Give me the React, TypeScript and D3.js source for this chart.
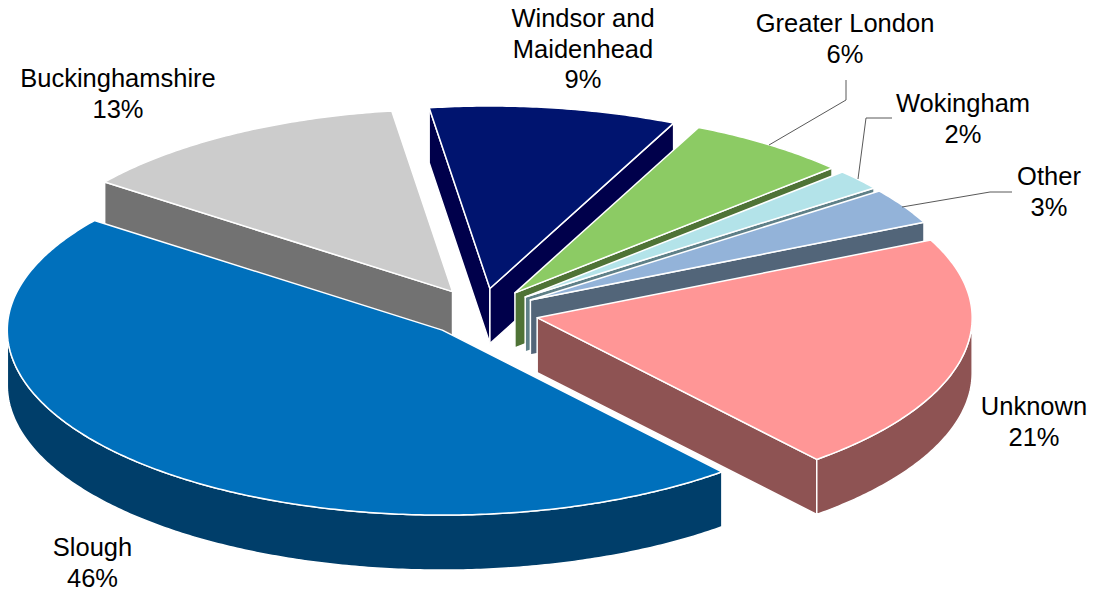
import React from "react";
import * as d3 from "d3";

const categories = ["Unknown", "Slough", "Buckinghamshire", "Windsor and Maidenhead", "Greater London", "Wokingham", "Other"];
const shares = [20.89, 46.36, 12.52, 9.17, 6.06, 1.81, 3.19];
const topColors = ["#FF9696", "#0070BC", "#CCCCCC", "#00146F", "#8CCB64", "#B3E3E9", "#93B3D9"];
const wallColors = ["#8E5353", "#003E6A", "#727272", "#00004B", "#4F7336", "#5F8088", "#526579"];
// back-to-front painting order, by category index
const paintOrder = [3, 2, 4, 5, 6, 0, 1];

const WIDTH = 1099;
const HEIGHT = 594;
const CX = 481.5;
const CY = 312.5;
const RX = 435;
const RY_FRONT = 185;
const RY_BACK = 182.5;
const EXPLODE = 57;
const DEPTH = 55;
const START = (64.8 * Math.PI) / 180;

type Label = { lines: string[]; x: number; y: number };
const labelLayout: Label[] = [
  { lines: ["Unknown", "21%"], x: 1034, y: 415 },
  { lines: ["Slough", "46%"], x: 92.5, y: 556 },
  { lines: ["Buckinghamshire", "13%"], x: 118, y: 87 },
  { lines: ["Windsor and", "Maidenhead", "9%"], x: 583, y: 27 },
  { lines: ["Greater London", "6%"], x: 845, y: 32 },
  { lines: ["Wokingham", "2%"], x: 963, y: 112 },
  { lines: ["Other", "3%"], x: 1049, y: 185 },
];
const leaders: [number, number][][] = [
  [[769, 145], [846, 100], [846, 80]],
  [[858, 179], [866, 118], [892, 118]],
  [[902, 207], [990, 192], [1012, 192]],
];

const pieGen = d3
  .pie<number>()
  .sort(null)
  .startAngle(START)
  .endAngle(START + 2 * Math.PI);
const arcs = pieGen(shares);
const poly = d3.line<[number, number]>().curve(d3.curveLinear);

function buildSlice(i: number) {
  const a = arcs[i];
  const mid = (a.startAngle + a.endAngle) / 2;
  const ax = CX + EXPLODE * Math.sin(mid);
  const ay = CY - (EXPLODE * RY_FRONT * Math.cos(mid)) / RX;
  const at = (t: number): [number, number] => {
    const c = Math.cos(t);
    return [ax + RX * Math.sin(t), ay - (c > 0 ? RY_BACK : RY_FRONT) * c];
  };
  const sample = (t0: number, t1: number) => {
    const n = Math.max(2, Math.ceil(Math.abs(t1 - t0) / 0.01));
    return d3.range(n + 1).map((k) => at(t0 + ((t1 - t0) * k) / n));
  };
  const apex: [number, number] = [ax, ay];
  const down = (p: [number, number]): [number, number] => [p[0], p[1] + DEPTH];
  const start = at(a.startAngle);
  const end = at(a.endAngle);
  const top = poly([apex, ...sample(a.startAngle, a.endAngle)]) + "Z";
  const walls: string[] = [];
  // a radial wall shows only when its outward side faces the viewer
  if (Math.sin(a.startAngle) < 0) walls.push(poly([apex, start, down(start), down(apex)]) + "Z");
  if (Math.sin(a.endAngle) > 0) walls.push(poly([apex, end, down(end), down(apex)]) + "Z");
  // outer rim: only the front half of the ellipse is visible
  const lo = Math.max(a.startAngle, Math.PI / 2);
  const hi = Math.min(a.endAngle, (3 * Math.PI) / 2);
  if (hi > lo) {
    const rim = sample(lo, hi);
    walls.push(poly([...rim, ...rim.slice().reverse().map(down)]) + "Z");
  }
  return { top, walls };
}

export default function App() {
  return (
    <svg
      width={WIDTH}
      height={HEIGHT}
      viewBox={`0 0 ${WIDTH} ${HEIGHT}`}
      style={{ position: "absolute", left: 0, top: 0, background: "#fff" }}
    >
      {paintOrder.map((i) => {
        const s = buildSlice(i);
        return (
          <g key={categories[i]}>
            {s.walls.map((d, k) => (
              <path key={k} d={d} fill={wallColors[i]} stroke="#fff" strokeWidth={1.5} strokeLinejoin="round" />
            ))}
            <path d={s.top} fill={topColors[i]} stroke="#fff" strokeWidth={1.5} strokeLinejoin="round" />
          </g>
        );
      })}
      {leaders.map((pts, i) => (
        <path key={i} d={poly(pts) as string} fill="none" stroke="#595959" strokeWidth={1} />
      ))}
      {labelLayout.map((l, i) => (
        <text
          key={i}
          x={l.x}
          y={l.y}
          textAnchor="middle"
          fontFamily="'Liberation Sans', Arial, sans-serif"
          fontSize={25.5}
          fill="#000"
        >
          {l.lines.map((line, k) => (
            <tspan key={k} x={l.x} dy={k === 0 ? 0 : 30.6}>
              {line}
            </tspan>
          ))}
        </text>
      ))}
    </svg>
  );
}
